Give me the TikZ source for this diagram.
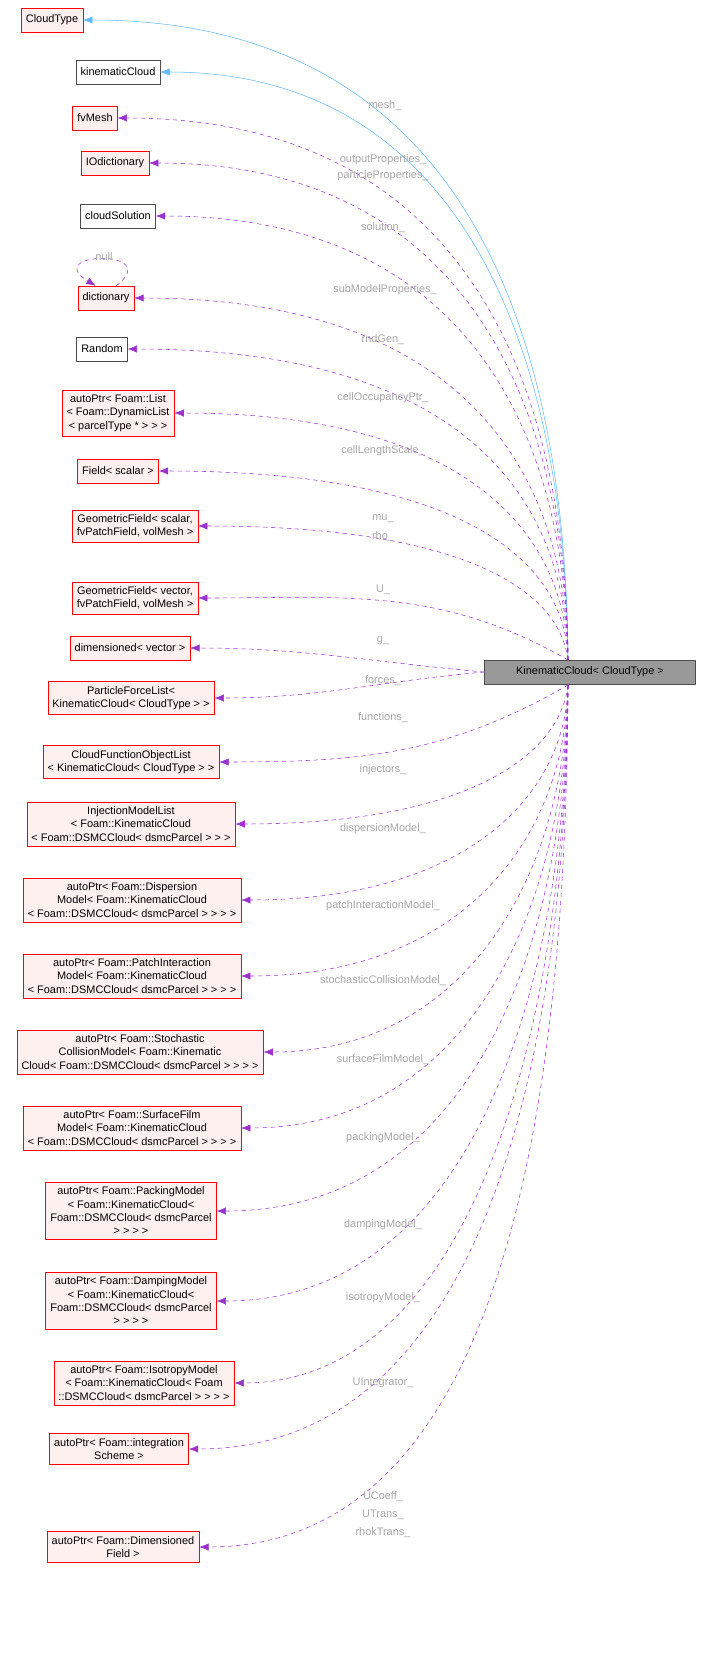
\documentclass[tikz,border=0pt]{standalone}
\usepackage{fontspec}
\setmainfont{Liberation Sans}
\usetikzlibrary{arrows.meta}
\definecolor{edgeblue}{HTML}{63B8FF}
\definecolor{edgepurple}{HTML}{9A32CD}
\definecolor{redfill}{HTML}{FFF0F0}
\tikzset{
  box/.style={draw=red, fill=redfill, align=center, inner sep=3.5pt, minimum height=18pt, font=\fontsize{8.2}{10}\selectfont},
  plain/.style={draw=black!70, fill=white, align=center, inner sep=3.5pt, minimum height=18pt, font=\fontsize{8.2}{10}\selectfont},
  inh/.style={draw=edgeblue, -{Latex[length=7pt,width=5.5pt]}},
  dep/.style={draw=edgepurple, dashed, -{Latex[length=7pt,width=5.5pt]}},
  lbl/.style={text=black!35, font=\fontsize{8.2}{10}\selectfont}
}
\begin{document}
\begin{tikzpicture}[line cap=round, line join=round, x=0.75pt, y=-0.75pt]

\useasboundingbox (0,0) rectangle (712,1661);

\node[box]   (cloudtype) at (52,20)  {CloudType};
\node[plain] (kincloud)  at (118,72) {kinematicCloud};
\node[box]   (fvmesh)    at (95,118) {fvMesh};
\node[box]   (iodict)    at (115,163) {IOdictionary};
\node[plain] (cloudsol)  at (118,216) {cloudSolution};
\node[box]   (dict)      at (106,298) {dictionary};
\node[plain] (random)    at (102,349) {Random};
\node[box]   (occupancy) at (118,413) {autoPtr< Foam::List\\< Foam::DynamicList\\ < parcelType * > > >};
\node[box]   (fieldsc)   at (118,471) {Field< scalar >};
\node[box]   (geosc)     at (135,526) {GeometricField< scalar,\\ fvPatchField, volMesh >};
\node[box]   (geovec)    at (135,598) {GeometricField< vector,\\ fvPatchField, volMesh >};
\node[box]   (dimvec)    at (130,648) {dimensioned< vector >};
\node[box]   (forces)    at (131,698) {ParticleForceList<\\ KinematicCloud< CloudType > >};
\node[box]   (functions) at (131,762) {CloudFunctionObjectList\\< KinematicCloud< CloudType > >};
\node[box]   (injectors) at (131,824) {InjectionModelList\\< Foam::KinematicCloud\\< Foam::DSMCCloud< dsmcParcel > > >};
\node[box]   (dispersion) at (132,900) {autoPtr< Foam::Dispersion\\Model< Foam::KinematicCloud\\< Foam::DSMCCloud< dsmcParcel > > > >};
\node[box]   (patchint)  at (132,976) {autoPtr< Foam::PatchInteraction\\Model< Foam::KinematicCloud\\< Foam::DSMCCloud< dsmcParcel > > > >};
\node[box]   (stochastic) at (140,1052) {autoPtr< Foam::Stochastic\\CollisionModel< Foam::Kinematic\\Cloud< Foam::DSMCCloud< dsmcParcel > > > >};
\node[box]   (surfilm)   at (132,1128) {autoPtr< Foam::SurfaceFilm\\Model< Foam::KinematicCloud\\< Foam::DSMCCloud< dsmcParcel > > > >};
\node[box]   (packing)   at (131,1211) {autoPtr< Foam::PackingModel\\< Foam::KinematicCloud<\\ Foam::DSMCCloud< dsmcParcel\\ > > > >};
\node[box]   (damping)   at (131,1301) {autoPtr< Foam::DampingModel\\< Foam::KinematicCloud<\\ Foam::DSMCCloud< dsmcParcel\\ > > > >};
\node[box]   (isotropy)  at (144,1383) {autoPtr< Foam::IsotropyModel\\< Foam::KinematicCloud< Foam\\::DSMCCloud< dsmcParcel > > > >};
\node[box]   (integr)    at (119,1449) {autoPtr< Foam::integration\\Scheme >};
\node[box]   (dimfield)  at (123,1547) {autoPtr< Foam::Dimensioned\\Field >};

\node[plain, fill=black!40, minimum width=158pt] (kc) at (590,672) {KinematicCloud< CloudType >};

\coordinate (kt) at (568,660);
\coordinate (kb) at (568,685);

% inheritance
\draw[inh] (kt) .. controls (566,340) and (470,20) .. (cloudtype.east);
\draw[inh] (kt) .. controls (566,366) and (470,72) .. (kincloud.east);

% members above
\draw[dep] (kt) .. controls (566,389) and (470,118) .. (fvmesh.east);
\draw[dep] (kt) .. controls (566,411) and (470,163) .. (iodict.east);
\draw[dep] (kt) .. controls (566,438) and (470,216) .. (cloudsol.east);
\draw[dep] (kt) .. controls (566,479) and (470,298) .. (dict.east);
\draw[dep] (kt) .. controls (566,504) and (470,349) .. (random.east);
\draw[dep] (kt) .. controls (566,536) and (470,413) .. (occupancy.east);
\draw[dep] (kt) .. controls (566,565) and (470,471) .. (fieldsc.east);
\draw[dep] (kt) .. controls (560,593) and (470,526) .. (geosc.east);
\draw[dep] (kt) to[out=150,in=0] (geovec.east);
\draw[dep] (kc.west) to[out=175,in=0] (dimvec.east);
\draw[dep] (kc.west) to[out=185,in=0] (forces.east);

% members below
\draw[dep] (kb) to[out=-150,in=0] (functions.east);
\draw[dep] (kb) .. controls (560,754) and (470,824) .. (injectors.east);
\draw[dep] (kb) .. controls (566,792) and (470,900) .. (dispersion.east);
\draw[dep] (kb) .. controls (566,830) and (470,976) .. (patchint.east);
\draw[dep] (kb) .. controls (566,868) and (470,1052) .. (stochastic.east);
\draw[dep] (kb) .. controls (566,906) and (470,1128) .. (surfilm.east);
\draw[dep] (kb) .. controls (566,948) and (470,1211) .. (packing.east);
\draw[dep] (kb) .. controls (566,993) and (470,1301) .. (damping.east);
\draw[dep] (kb) .. controls (566,1034) and (470,1383) .. (isotropy.east);
\draw[dep] (kb) .. controls (566,1067) and (480,1449) .. (integr.east);
\draw[dep] (kb) .. controls (566,1116) and (500,1547) .. (dimfield.east);

% self loop
\draw[dep] (dict.50) .. controls (165,248) and (40,252) .. (dict.130);
\node[lbl] (nulllbl) at (104,257) {null};

% labels
\node[lbl] at (385,106) {mesh\_};
\node[lbl] at (383,160) {outputProperties\_};
\node[lbl] at (383,176) {particleProperties\_};
\node[lbl] at (383,228) {solution\_};
\node[lbl] at (385,290) {subModelProperties\_};
\node[lbl] at (383,340) {rndGen\_};
\node[lbl] at (383,398) {cellOccupancyPtr\_};
\node[lbl] at (383,451) {cellLengthScale\_};
\node[lbl] at (383,519) {mu\_};
\node[lbl] at (383,537) {rho\_};
\node[lbl] at (383,590) {U\_};
\node[lbl] at (383,641) {g\_};
\node[lbl] at (383,681) {forces\_};
\node[lbl] at (383,718) {functions\_};
\node[lbl] at (383,770) {injectors\_};
\node[lbl] at (383,829) {dispersionModel\_};
\node[lbl] at (383,906) {patchInteractionModel\_};
\node[lbl] at (383,981) {stochasticCollisionModel\_};
\node[lbl] at (383,1060) {surfaceFilmModel\_};
\node[lbl] at (383,1138) {packingModel\_};
\node[lbl] at (383,1225) {dampingModel\_};
\node[lbl] at (383,1298) {isotropyModel\_};
\node[lbl] at (383,1383) {UIntegrator\_};
\node[lbl] at (383,1497) {UCoeff\_};
\node[lbl] at (383,1515) {UTrans\_};
\node[lbl] at (383,1533) {rhokTrans\_};

\end{tikzpicture}
\end{document}
